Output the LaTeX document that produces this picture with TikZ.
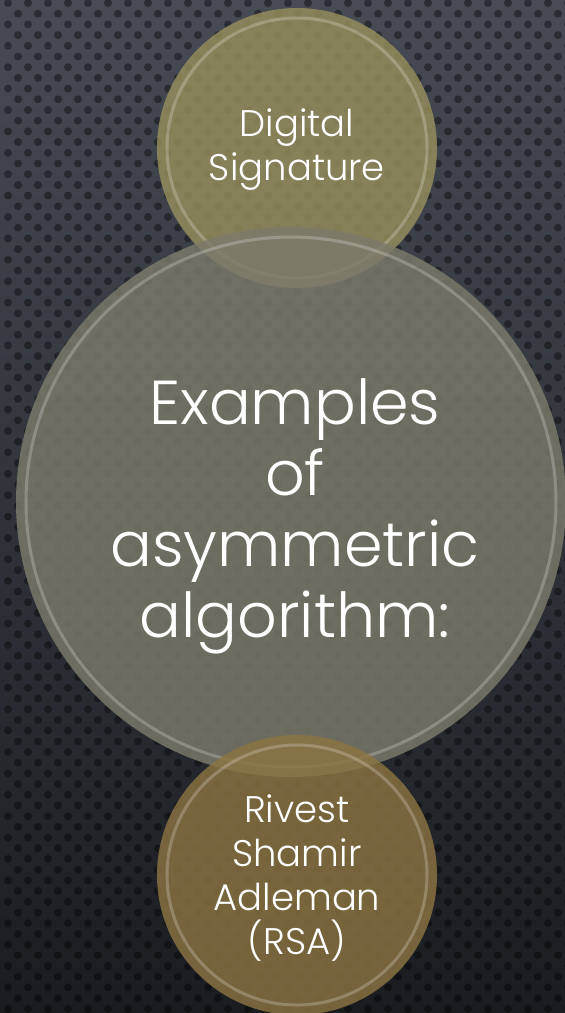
\documentclass[tikz,border=0pt]{standalone}
\usepackage{fontspec}
\setmainfont{Poppins}[UprightFont={* Light}]
\begin{document}
\begin{tikzpicture}[x=1pt,y=-1pt]
\definecolor{bgtop}{HTML}{464B54}
\definecolor{bgbot}{HTML}{1A1C20}
\definecolor{topfill}{HTML}{978F5E}
\definecolor{midfill}{HTML}{7C7B6C}
\definecolor{botfill}{HTML}{8C7442}
\tikzset{
  bubble/.style={circle, inner sep=0pt, fill opacity=0.82, text opacity=1},
  rim/.style={draw=white, draw opacity=0.22, line width=3pt},
  label/.style={text=white, align=center, font=\fontsize{37}{44}\selectfont},
  biglabel/.style={text=white, align=center, font=\fontsize{62}{71}\selectfont}
}
\useasboundingbox (0,0) rectangle (565,1013);
\shade[top color=bgtop, bottom color=bgbot] (0,0) rectangle (565,1013);
% dot pattern
\foreach \r in {0,...,95}{
  \pgfmathsetmacro{\yy}{\r*10.7+3}
  \pgfmathsetmacro{\off}{mod(\r,2)*10}
  \foreach \c in {0,...,28}{
    \fill[black, opacity=0.38] (\c*20+\off+8,\yy) circle (4);
  }
}
% circles
\node[bubble, fill=topfill, minimum size=280] (top) at (297,148) {};
\draw[rim] (top.center) circle (130);
\node[bubble, fill=midfill, minimum size=550] (mid) at (291,502) {};
\draw[rim] (mid.center) circle (265);
\node[bubble, fill=botfill, minimum size=280] (bot) at (297,875) {};
\draw[rim] (bot.center) circle (130);
% texts
\node[label] (toptext) at (297,150) {Digital\\Signature};
\node[biglabel] (midtext) at (295,516) {Examples\\of\\asymmetric\\algorithm:};
\node[label] (bottext) at (297,878) {Rivest\\Shamir\\Adleman\\(RSA)};
\end{tikzpicture}
\end{document}
